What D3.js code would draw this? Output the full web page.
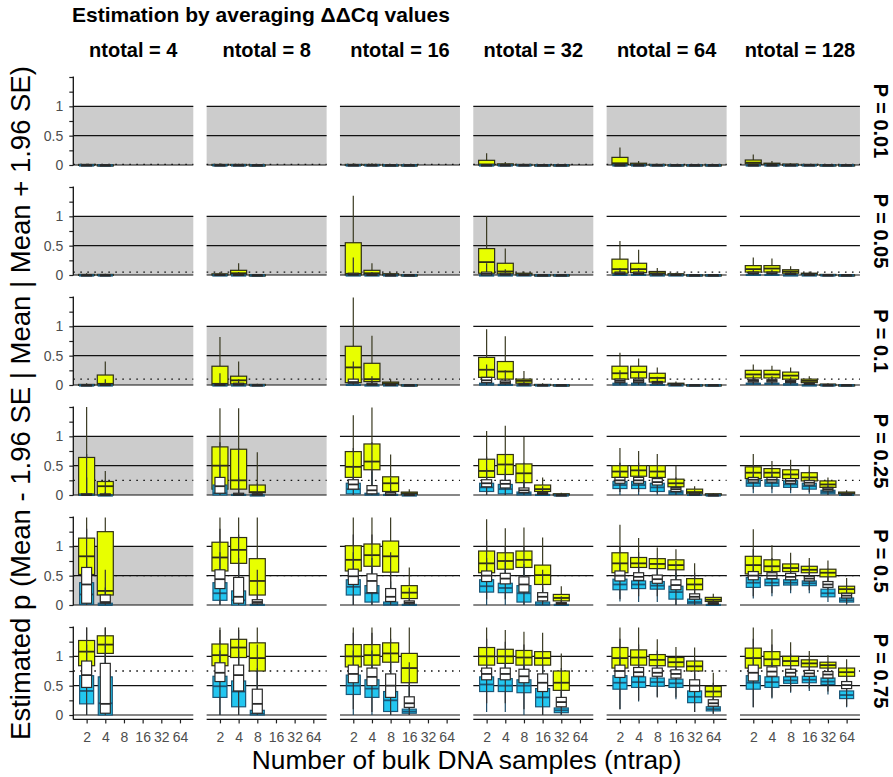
<!DOCTYPE html>
<html><head><meta charset="utf-8">
<script src="https://cdn.jsdelivr.net/npm/d3@7"></script>
<style>body{margin:0;background:#fff}svg{display:block}text{font-family:"Liberation Sans",Arial,Helvetica,sans-serif}</style>
</head><body><svg id="c" width="893" height="777"></svg>
<script>
const chartTitle = "Estimation by averaging ΔΔCq values";
const xTitle = "Number of bulk DNA samples (ntrap)";
const yTitle = "Estimated p (Mean - 1.96 SE | Mean | Mean + 1.96 SE)";
const ntotalLevels = [4, 8, 16, 32, 64, 128];
const pLabels = ["0.01", "0.05", "0.1", "0.25", "0.5", "0.75"];
const pValues = [0.01, 0.05, 0.1, 0.25, 0.5, 0.75];
const ntrapLevels = [2, 4, 8, 16, 32, 64];
const yTicks = [0, 0.25, 0.5, 0.75, 1, 1.25, 1.5];
const yTickLabels = ["0", "", "0.5", "", "1", "", ""];
const refLines = [0, 0.5, 1];
// [row (P index), column (ntotal index)] panels with grey band
const shadedPanels = [[0,0],[0,1],[0,2],[0,3],[0,4],[0,5],[1,0],[1,1],[1,2],[1,3],[2,0],[2,1],[2,2],[3,0],[3,1],[4,0]];

// box stats [lo, q1, median, q3, hi] : [P row][ntotal col][ntrap]
const upper = [
 [
  [[0,0,0,0.01,0.02],[0,0,0,0,0.01]],
  [[0,0,0,0.01,0.03],[0,0,0,0.01,0.02],[0,0,0,0,0]],
  [[0,0,0,0.01,0.03],[0,0,0,0.01,0.03],[0,0,0,0,0.01],[0,0,0,0,0]],
  [[0,0,0.01,0.08,0.2],[0,0,0,0.02,0.05],[0,0,0,0.01,0.02],[0,0,0,0,0],[0,0,0,0,0]],
  [[0,0.01,0.03,0.13,0.3],[0,0,0.01,0.03,0.07],[0,0,0,0.01,0.02],[0,0,0,0,0],[0,0,0,0,0],[0,0,0,0,0]],
  [[0,0.02,0.04,0.085,0.18],[0,0.01,0.02,0.03,0.07],[0,0,0.01,0.01,0.03],[0,0,0,0.01,0.01],[0,0,0,0,0],[0,0,0,0,0]]
 ],
 [
  [[0,0,0,0.01,0.03],[0,0,0,0.01,0.02]],
  [[0,0,0,0.02,0.05],[0,0.01,0.03,0.08,0.2],[0,0,0,0,0.01]],
  [[0,0,0.02,0.55,1.35],[0,0.01,0.03,0.08,0.2],[0,0,0.01,0.02,0.04],[0,0,0,0,0]],
  [[0,0.03,0.22,0.45,1.0],[0,0.02,0.06,0.2,0.45],[0,0,0.01,0.03,0.06],[0,0,0,0,0],[0,0,0,0,0]],
  [[0,0.03,0.1,0.27,0.58],[0,0.04,0.1,0.2,0.43],[0,0.01,0.03,0.06,0.12],[0,0,0.01,0.02,0.04],[0,0,0,0,0],[0,0,0,0,0]],
  [[0.01,0.05,0.1,0.16,0.3],[0.01,0.05,0.11,0.16,0.28],[0,0.03,0.06,0.09,0.15],[0,0.01,0.02,0.03,0.06],[0,0,0,0.01,0.01],[0,0,0,0,0]]
 ],
 [
  [[0,0,0,0.01,0.03],[0,0,0.02,0.17,0.4]],
  [[0,0,0.02,0.32,0.82],[0,0.02,0.08,0.15,0.4],[0,0,0,0.01,0.02]],
  [[0,0.04,0.3,0.66,1.49],[0,0.06,0.1,0.37,0.84],[0,0.01,0.03,0.05,0.1],[0,0,0,0,0]],
  [[0,0.13,0.26,0.47,0.95],[0,0.1,0.23,0.4,0.83],[0,0.03,0.07,0.1,0.24],[0,0,0,0.01,0.03],[0,0,0,0,0]],
  [[0.02,0.1,0.2,0.32,0.55],[0.02,0.12,0.22,0.32,0.45],[0,0.05,0.12,0.2,0.3],[0,0.01,0.02,0.03,0.06],[0,0,0,0,0],[0,0,0,0,0]],
  [[0.05,0.12,0.18,0.25,0.35],[0.05,0.12,0.18,0.25,0.33],[0.03,0.1,0.16,0.22,0.3],[0,0.04,0.07,0.1,0.15],[0,0,0.01,0.01,0.03],[0,0,0,0,0]]
 ],
 [
  [[0,0,0.01,0.64,1.5],[0,0,0.15,0.23,0.41]],
  [[0,0.1,0.5,0.82,1.48],[0,0.1,0.25,0.78,1.48],[0,0.04,0.05,0.17,0.73]],
  [[0.05,0.3,0.48,0.74,1.36],[0.1,0.43,0.57,0.87,1.49],[0,0.06,0.2,0.31,0.69],[0,0.01,0.03,0.05,0.1]],
  [[0.1,0.3,0.41,0.61,1.09],[0.1,0.35,0.52,0.69,1.18],[0.03,0.21,0.37,0.53,0.99],[0,0.06,0.1,0.17,0.3],[0,0,0.01,0.02,0.04]],
  [[0.15,0.3,0.4,0.5,0.8],[0.15,0.32,0.42,0.5,0.75],[0.15,0.3,0.4,0.5,0.7],[0.03,0.14,0.2,0.27,0.5],[0,0.02,0.05,0.1,0.15],[0,0,0.01,0.02,0.03]],
  [[0.15,0.28,0.38,0.48,0.7],[0.2,0.3,0.38,0.45,0.58],[0.15,0.28,0.35,0.43,0.6],[0.12,0.24,0.3,0.38,0.5],[0.03,0.13,0.18,0.24,0.3],[0,0.02,0.03,0.05,0.08]]
 ],
 [
  [[0.1,0.52,0.83,1.14,1.49],[0,0.17,0.24,1.25,1.49]],
  [[0.2,0.58,0.81,1.07,1.49],[0.2,0.71,0.94,1.15,1.49],[0,0.17,0.41,0.79,1.49]],
  [[0.2,0.58,0.77,1.01,1.49],[0.2,0.66,0.85,1.04,1.49],[0.1,0.56,0.83,1.09,1.49],[0,0.11,0.21,0.33,0.64]],
  [[0.3,0.55,0.71,0.92,1.46],[0.3,0.61,0.75,0.89,1.31],[0.2,0.64,0.77,0.92,1.32],[0.05,0.35,0.51,0.68,1.15],[0,0.07,0.12,0.18,0.32]],
  [[0.3,0.55,0.71,0.89,1.37],[0.35,0.64,0.71,0.81,1.14],[0.35,0.62,0.7,0.79,0.98],[0.2,0.6,0.68,0.77,0.95],[0.05,0.26,0.35,0.45,0.71],[0,0.06,0.09,0.13,0.19]],
  [[0.3,0.53,0.68,0.83,1.29],[0.35,0.57,0.66,0.77,1.02],[0.4,0.57,0.63,0.7,0.89],[0.4,0.55,0.6,0.66,0.8],[0.3,0.48,0.55,0.61,0.76],[0.1,0.2,0.27,0.32,0.46]]
 ],
 [
  [[0.5,0.84,1.08,1.27,1.49],[0.6,1.05,1.2,1.35,1.49]],
  [[0.5,0.84,1.02,1.21,1.49],[0.6,0.98,1.15,1.29,1.49],[0.3,0.75,0.97,1.23,1.49]],
  [[0.5,0.82,1.0,1.2,1.49],[0.55,0.85,1.02,1.2,1.49],[0.5,0.9,1.05,1.23,1.49],[0.1,0.55,0.8,1.05,1.49]],
  [[0.55,0.85,1.0,1.15,1.49],[0.6,0.88,1.0,1.12,1.45],[0.55,0.85,0.98,1.1,1.42],[0.5,0.85,0.97,1.08,1.4],[0.15,0.42,0.55,0.75,1.05]],
  [[0.5,0.8,0.97,1.15,1.49],[0.55,0.85,0.98,1.11,1.49],[0.6,0.84,0.94,1.03,1.29],[0.6,0.82,0.9,0.98,1.16],[0.5,0.75,0.83,0.92,1.15],[0.15,0.31,0.4,0.49,0.72]],
  [[0.5,0.8,0.97,1.14,1.49],[0.6,0.84,0.95,1.08,1.46],[0.65,0.84,0.92,1.0,1.24],[0.7,0.82,0.88,0.94,1.09],[0.7,0.8,0.85,0.9,1.02],[0.5,0.66,0.73,0.8,0.95]]
 ]
];

const meanEst = [
 [
  [[0,0,0,0,0.01],[0,0,0,0,0.01]],
  [[0,0,0,0,0.01],[0,0,0,0,0.01],[0,0,0,0,0.01]],
  [[0,0,0,0,0.01],[0,0,0,0,0.01],[0,0,0,0,0.01],[0,0,0,0,0.01]],
  [[0,0,0,0,0.01],[0,0,0,0,0.01],[0,0,0,0,0.01],[0,0,0,0,0.01],[0,0,0,0,0.01]],
  [[0,0,0,0,0.01],[0,0,0,0,0.01],[0,0,0,0,0.01],[0,0,0,0,0.01],[0,0,0,0,0.01],[0,0,0,0,0.01]],
  [[0,0,0,0,0.01],[0,0,0,0,0.01],[0,0,0,0,0.01],[0,0,0,0,0.01],[0,0,0,0,0.01],[0,0,0,0,0.01]]
 ],
 [
  [[0,0,0,0,0.01],[0,0,0,0,0.01]],
  [[0,0,0,0.01,0.02],[0,0,0,0.01,0.05],[0,0,0,0,0]],
  [[0,0,0.01,0.03,0.3],[0,0,0,0.01,0.05],[0,0,0,0,0.01],[0,0,0,0,0]],
  [[0,0,0.02,0.05,0.2],[0,0,0.01,0.03,0.1],[0,0,0,0.01,0.02],[0,0,0,0,0],[0,0,0,0,0]],
  [[0,0.01,0.03,0.05,0.12],[0,0.01,0.03,0.05,0.12],[0,0,0.01,0.02,0.05],[0,0,0,0.01,0.01],[0,0,0,0,0],[0,0,0,0,0]],
  [[0,0.02,0.03,0.05,0.09],[0,0.02,0.03,0.05,0.09],[0,0.01,0.02,0.03,0.06],[0,0,0.01,0.01,0.02],[0,0,0,0,0],[0,0,0,0,0]]
 ],
 [
  [[0,0,0,0,0.01],[0,0,0,0.01,0.1]],
  [[0,0,0,0.01,0.2],[0,0,0.01,0.03,0.1],[0,0,0,0,0.01]],
  [[0,0.03,0.05,0.1,0.4],[0,0,0.01,0.03,0.15],[0,0,0,0.01,0.02],[0,0,0,0,0]],
  [[0,0.04,0.08,0.13,0.35],[0,0.02,0.04,0.07,0.25],[0,0,0.01,0.02,0.06],[0,0,0,0,0.01],[0,0,0,0,0]],
  [[0,0.04,0.07,0.1,0.25],[0,0.04,0.07,0.1,0.22],[0,0.02,0.04,0.06,0.14],[0,0,0.01,0.01,0.02],[0,0,0,0,0],[0,0,0,0,0]],
  [[0.01,0.05,0.07,0.09,0.16],[0.01,0.05,0.07,0.09,0.15],[0.01,0.04,0.06,0.08,0.13],[0,0.01,0.02,0.03,0.05],[0,0,0,0,0.01],[0,0,0,0,0]]
 ],
 [
  [[0,0,0,0.02,0.7],[0,0,0,0.02,0.25]],
  [[0,0.03,0.15,0.3,0.9],[0,0,0.01,0.03,0.8],[0,0,0.01,0.02,0.2]],
  [[0,0.1,0.18,0.26,0.8],[0,0.02,0.08,0.16,0.9],[0,0,0.01,0.04,0.3],[0,0,0,0.01,0.03]],
  [[0,0.14,0.2,0.26,0.65],[0,0.12,0.19,0.25,0.7],[0,0.04,0.08,0.12,0.55],[0,0.01,0.02,0.04,0.15],[0,0,0,0,0.01]],
  [[0.05,0.2,0.25,0.3,0.55],[0.05,0.2,0.25,0.3,0.55],[0.03,0.17,0.22,0.28,0.5],[0,0.06,0.1,0.13,0.3],[0,0,0.01,0.03,0.08],[0,0,0,0,0.01]],
  [[0.1,0.22,0.26,0.3,0.5],[0.1,0.22,0.26,0.3,0.45],[0.08,0.2,0.24,0.28,0.45],[0.05,0.17,0.21,0.25,0.4],[0,0.07,0.1,0.13,0.25],[0,0,0.01,0.02,0.05]]
 ],
 [
  [[0,0.03,0.35,0.64,1.3],[0,0.03,0.05,0.17,0.6]],
  [[0,0.28,0.44,0.6,1.3],[0,0.03,0.14,0.47,1.2],[0,0.02,0.05,0.09,0.6]],
  [[0,0.35,0.49,0.61,1.2],[0,0.21,0.41,0.53,1.2],[0,0.06,0.14,0.28,0.9],[0,0.02,0.04,0.07,0.3]],
  [[0.1,0.4,0.5,0.58,1.1],[0.1,0.36,0.45,0.54,1.0],[0,0.22,0.35,0.48,1.0],[0,0.07,0.14,0.21,0.6],[0,0.01,0.02,0.04,0.15]],
  [[0.1,0.41,0.5,0.58,1.0],[0.15,0.42,0.48,0.55,0.9],[0.15,0.37,0.44,0.51,0.8],[0,0.26,0.34,0.43,0.75],[0,0.1,0.14,0.19,0.55],[0,0.01,0.02,0.04,0.1]],
  [[0.15,0.43,0.5,0.57,0.95],[0.2,0.45,0.5,0.55,0.8],[0.25,0.43,0.48,0.54,0.72],[0.25,0.41,0.45,0.49,0.67],[0.15,0.3,0.35,0.4,0.62],[0.02,0.12,0.16,0.2,0.33]]
 ],
 [
  [[0,0.47,0.68,0.92,1.49],[0,0.03,0.19,0.88,1.49]],
  [[0,0.57,0.72,0.89,1.45],[0,0.41,0.68,0.85,1.45],[0,0.03,0.19,0.44,1.2]],
  [[0.1,0.55,0.7,0.85,1.4],[0.05,0.5,0.65,0.8,1.4],[0,0.3,0.5,0.7,1.3],[0,0.13,0.2,0.31,0.9]],
  [[0.2,0.6,0.7,0.8,1.3],[0.2,0.6,0.7,0.8,1.25],[0.1,0.55,0.66,0.78,1.2],[0,0.4,0.55,0.7,1.1],[0,0.14,0.22,0.3,0.8]],
  [[0.1,0.64,0.75,0.85,1.3],[0.25,0.66,0.73,0.81,1.2],[0.3,0.66,0.72,0.8,1.1],[0.3,0.63,0.7,0.77,1.0],[0.05,0.4,0.5,0.6,0.95],[0.02,0.15,0.2,0.26,0.55]],
  [[0.13,0.58,0.72,0.85,1.3],[0.3,0.66,0.74,0.82,1.2],[0.4,0.66,0.72,0.78,1.05],[0.45,0.66,0.71,0.76,0.95],[0.4,0.63,0.69,0.74,0.9],[0.15,0.45,0.51,0.57,0.8]]
 ]
];

const lower = [
 [
  [[0,0,0,0,0],[0,0,0,0,0]],
  [[0,0,0,0,0],[0,0,0,0,0],[0,0,0,0,0]],
  [[0,0,0,0,0],[0,0,0,0,0],[0,0,0,0,0],[0,0,0,0,0]],
  [[0,0,0,0,0],[0,0,0,0,0],[0,0,0,0,0],[0,0,0,0,0],[0,0,0,0,0]],
  [[0,0,0,0,0],[0,0,0,0,0],[0,0,0,0,0],[0,0,0,0,0],[0,0,0,0,0],[0,0,0,0,0]],
  [[0,0,0,0,0],[0,0,0,0,0],[0,0,0,0,0],[0,0,0,0,0],[0,0,0,0,0],[0,0,0,0,0]]
 ],
 [
  [[0,0,0,0,0],[0,0,0,0,0]],
  [[0,0,0,0,0],[0,0,0,0,0],[0,0,0,0,0]],
  [[0,0,0,0,0],[0,0,0,0,0],[0,0,0,0,0],[0,0,0,0,0]],
  [[0,0,0,0,0.01],[0,0,0,0,0],[0,0,0,0,0],[0,0,0,0,0],[0,0,0,0,0]],
  [[0,0,0,0.01,0.03],[0,0,0,0.01,0.03],[0,0,0,0,0],[0,0,0,0,0],[0,0,0,0,0],[0,0,0,0,0]],
  [[0,0,0,0.01,0.03],[0,0,0,0.01,0.03],[0,0,0,0,0.01],[0,0,0,0,0],[0,0,0,0,0],[0,0,0,0,0]]
 ],
 [
  [[0,0,0,0,0],[0,0,0,0,0.01]],
  [[0,0,0,0,0.02],[0,0,0,0,0.01],[0,0,0,0,0]],
  [[0,0,0,0.01,0.1],[0,0,0,0,0.02],[0,0,0,0,0],[0,0,0,0,0]],
  [[0,0,0.01,0.03,0.1],[0,0,0,0.01,0.05],[0,0,0,0,0.01],[0,0,0,0,0],[0,0,0,0,0]],
  [[0,0,0.01,0.03,0.1],[0,0,0.01,0.03,0.1],[0,0,0,0.01,0.04],[0,0,0,0,0],[0,0,0,0,0],[0,0,0,0,0]],
  [[0,0.01,0.02,0.03,0.07],[0,0.01,0.02,0.03,0.07],[0,0,0.01,0.02,0.05],[0,0,0,0,0.01],[0,0,0,0,0],[0,0,0,0,0]]
 ],
 [
  [[0,0,0,0.01,0.3],[0,0,0,0,0.05]],
  [[0,0,0.03,0.17,0.5],[0,0,0,0.01,0.3],[0,0,0,0,0.03]],
  [[0,0.02,0.1,0.2,0.5],[0,0,0.01,0.03,0.4],[0,0,0,0.01,0.1],[0,0,0,0,0]],
  [[0,0.06,0.13,0.2,0.45],[0,0.02,0.1,0.18,0.45],[0,0,0.02,0.05,0.25],[0,0,0,0.01,0.05],[0,0,0,0,0]],
  [[0,0.11,0.17,0.23,0.4],[0,0.11,0.17,0.23,0.4],[0,0.06,0.13,0.2,0.35],[0,0.01,0.04,0.07,0.15],[0,0,0,0.01,0.03],[0,0,0,0,0]],
  [[0.03,0.15,0.2,0.26,0.35],[0.03,0.15,0.2,0.26,0.35],[0.03,0.13,0.18,0.24,0.33],[0.02,0.1,0.15,0.2,0.3],[0,0.02,0.05,0.08,0.15],[0,0,0,0.01,0.02]]
 ],
 [
  [[0,0.01,0.18,0.38,0.8],[0,0,0,0.03,0.3]],
  [[0,0.08,0.2,0.38,0.9],[0,0,0.08,0.24,0.8],[0,0,0,0.01,0.1]],
  [[0,0.17,0.31,0.43,0.9],[0,0.05,0.2,0.33,0.8],[0,0,0.01,0.05,0.4],[0,0,0,0.01,0.05]],
  [[0,0.22,0.32,0.43,0.8],[0,0.21,0.29,0.37,0.75],[0,0.05,0.2,0.33,0.7],[0,0,0.01,0.05,0.3],[0,0,0,0.01,0.03]],
  [[0.06,0.26,0.35,0.44,0.7],[0.05,0.28,0.35,0.41,0.65],[0.05,0.27,0.33,0.4,0.6],[0,0.1,0.22,0.32,0.55],[0,0.02,0.05,0.1,0.2],[0,0,0,0.01,0.03]],
  [[0.11,0.3,0.38,0.47,0.7],[0.15,0.33,0.38,0.44,0.6],[0.2,0.34,0.38,0.43,0.55],[0.2,0.33,0.37,0.41,0.5],[0.05,0.14,0.2,0.27,0.4],[0,0.05,0.08,0.12,0.18]]
 ],
 [
  [[0,0.19,0.41,0.67,1.2],[0,0,0.2,0.65,1.2]],
  [[0,0.3,0.49,0.66,1.1],[0,0.14,0.4,0.58,1.1],[0,0,0.02,0.08,0.8]],
  [[0,0.35,0.5,0.68,1.1],[0,0.3,0.45,0.6,1.1],[0,0.06,0.25,0.4,1.0],[0,0.03,0.06,0.1,0.5]],
  [[0.05,0.4,0.52,0.65,1.0],[0.05,0.4,0.5,0.62,1.0],[0,0.38,0.5,0.6,0.95],[0,0.14,0.3,0.45,0.85],[0,0.04,0.08,0.12,0.4]],
  [[0.1,0.44,0.55,0.67,1.0],[0.23,0.47,0.56,0.65,0.95],[0.31,0.49,0.56,0.63,0.85],[0.27,0.47,0.54,0.61,0.8],[0.05,0.21,0.31,0.41,0.7],[0.02,0.07,0.1,0.14,0.3]],
  [[0.13,0.44,0.55,0.67,1.0],[0.28,0.47,0.56,0.65,0.9],[0.38,0.54,0.59,0.65,0.8],[0.41,0.55,0.6,0.66,0.75],[0.35,0.52,0.57,0.63,0.75],[0.13,0.28,0.34,0.41,0.6]]
 ]
];

const svg = d3.select("#c");
const colX0 = 73.3, colStep = 133.33, panelW = 120;
const rowTop0 = 72.6, rowStep = 110, panelH = 96.8;
const x = d3.scalePoint().domain(ntrapLevels).range([0, panelW]).padding(0.714);
const y = d3.scaleLinear().domain([-0.075, 1.575]).range([panelH, 0]);

const series = [
  {data: upper,   fill: "#E8FF00", stroke: "#2f2f18", whisk: "#3a3a22", w: 16},
  {data: lower,   fill: "#22C6F0", stroke: "#1b5778", whisk: "#1d4c68", w: 14},
  {data: meanEst, fill: "#FFFFFF", stroke: "#2a2a2a", whisk: "#333333", w: 10}
];
const isShaded = (r, c) => shadedPanels.some(d => d[0] === r && d[1] === c);

pLabels.forEach((pl, ri) => {
  ntotalLevels.forEach((nt, ci) => {
    const g = svg.append("g").attr("transform", `translate(${colX0 + ci*colStep},${rowTop0 + ri*rowStep})`);
    if (isShaded(ri, ci)) {
      g.append("rect").attr("x", 0).attr("width", panelW)
        .attr("y", y(1)).attr("height", y(0) - y(1)).attr("fill", "#CCCCCC");
    }
    refLines.forEach(v => {
      g.append("line").attr("x1", 0).attr("x2", panelW).attr("y1", y(v)).attr("y2", y(v))
        .attr("stroke", "#111").attr("stroke-width", 1.2);
    });
    g.append("line").attr("x1", 0).attr("x2", panelW)
      .attr("y1", y(pValues[ri])).attr("y2", y(pValues[ri]))
      .attr("stroke", "#111").attr("stroke-width", 1.3).attr("stroke-dasharray", "1.6,5.4");

    series.forEach(s => {
      s.data[ri][ci].forEach((st, k) => {
        const cx = x(ntrapLevels[k]);
        const [lo, q1, med, q3, hi] = st;
        g.append("line").attr("x1", cx).attr("x2", cx).attr("y1", y(lo)).attr("y2", y(hi))
          .attr("stroke", s.whisk).attr("stroke-width", 1.2);
        const top = y(q3), h = Math.max(y(q1) - y(q3), 1);
        g.append("rect").attr("x", cx - s.w/2).attr("width", s.w).attr("y", top).attr("height", h)
          .attr("fill", s.fill).attr("stroke", s.stroke).attr("stroke-width", 1.2);
        g.append("line").attr("x1", cx - s.w/2).attr("x2", cx + s.w/2).attr("y1", y(med)).attr("y2", y(med))
          .attr("stroke", s.stroke).attr("stroke-width", 1.8);
      });
    });

    if (ci === 0) {
      const ax = g.append("g").call(d3.axisLeft(y).tickValues(yTicks).tickSize(4).tickPadding(6)
        .tickFormat((d, i) => yTickLabels[i]));
      ax.select(".domain").remove();
      ax.selectAll(".tick line").attr("stroke", "#222").attr("stroke-width", 1.2);
      ax.selectAll(".tick text").attr("fill", "#4D4D4D").style("font-size", "14px")
        .style("font-family", '"Liberation Sans",Arial,sans-serif');
      g.append("line").attr("x1", 0).attr("x2", 0).attr("y1", y(1.5) - 0.6)
        .attr("y2", ri === 5 ? panelH : y(0) + 0.6).attr("stroke", "#111").attr("stroke-width", 1.3);
    }
    if (ri === 5) {
      const ax = g.append("g").attr("transform", `translate(0,${panelH})`)
        .call(d3.axisBottom(x).tickSize(4).tickPadding(9));
      ax.select(".domain").remove();
      ax.selectAll(".tick line").attr("stroke", "#222").attr("stroke-width", 1.2);
      ax.selectAll(".tick text").attr("fill", "#4D4D4D").style("font-size", "14px")
        .style("font-family", '"Liberation Sans",Arial,sans-serif');
      g.append("line").attr("x1", 0).attr("x2", panelW).attr("y1", panelH).attr("y2", panelH)
        .attr("stroke", "#111").attr("stroke-width", 1.3);
    }
  });
});

// column strips
ntotalLevels.forEach((nt, ci) => {
  svg.append("text").attr("x", colX0 + ci*colStep + panelW/2).attr("y", 57)
    .attr("text-anchor", "middle").style("font-size", "20px").style("font-weight", "bold")
    .text(`ntotal = ${nt}`);
});
// row strips
pLabels.forEach((pl, ri) => {
  svg.append("text").attr("transform", `translate(874,${rowTop0 + ri*rowStep + panelH/2}) rotate(90)`)
    .attr("text-anchor", "middle").style("font-size", "20px").style("font-weight", "bold")
    .text(`P = ${pl}`);
});
svg.append("text").attr("x", 72).attr("y", 22).style("font-size", "21px").style("font-weight", "bold")
  .text(chartTitle);
svg.append("text").attr("x", colX0 + 5*colStep/2 + panelW/2).attr("y", 769).attr("text-anchor", "middle")
  .style("font-size", "26.3px").text(xTitle);
svg.append("text").attr("transform", `translate(30,403) rotate(-90)`).attr("text-anchor", "middle")
  .style("font-size", "27.5px").text(yTitle);
</script></body></html>
